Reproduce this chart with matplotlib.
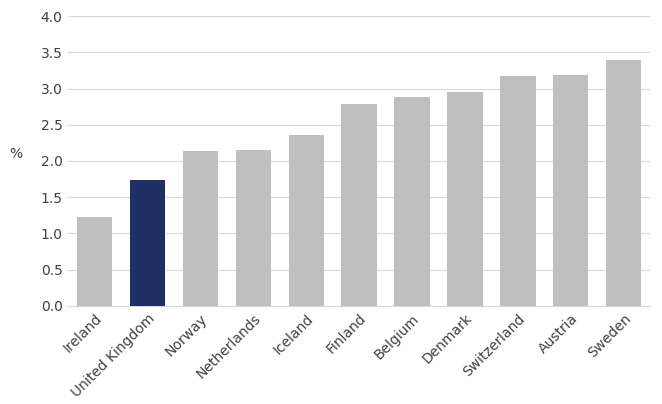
import matplotlib
matplotlib.use("Agg")
import matplotlib.pyplot as plt

countries = ["Ireland", "United Kingdom", "Norway", "Netherlands", "Iceland", "Finland",
             "Belgium", "Denmark", "Switzerland", "Austria", "Sweden"]
values = [1.23, 1.74, 2.14, 2.15, 2.36, 2.79, 2.88, 2.95, 3.17, 3.19, 3.39]
yticks = [0.0, 0.5, 1.0, 1.5, 2.0, 2.5, 3.0, 3.5, 4.0]

colors = ["#1F3164" if c == "United Kingdom" else "#BFBFBF" for c in countries]

fig = plt.figure(figsize=(6.62, 4.04), dpi=100)
ax = fig.add_axes([0.103, 0.243, 0.879, 0.717])
x = range(len(countries))
ax.bar(x, values, width=0.67, color=colors, zorder=3)
ax.set_ylim(0, 4.0)
ax.set_xlim(-0.5, len(countries) - 0.5)
ax.set_yticks(yticks)
ax.set_yticklabels([f"{v:.1f}" for v in yticks], fontsize=10, color="#404040")
ax.set_xticks(list(x))
ax.set_xticklabels(countries, rotation=45, ha="right", rotation_mode="anchor",
                   fontsize=10, color="#404040")
ax.yaxis.grid(True, color="#D9D9D9", linewidth=0.8, zorder=0)
for s in ["top", "right", "left"]:
    ax.spines[s].set_visible(False)
ax.spines["bottom"].set_color("#D9D9D9")
ax.tick_params(length=0, pad=4)
ax.set_ylabel("%", rotation=0, fontsize=10, color="#404040", labelpad=18)
fig.savefig("out.png", dpi=100)
